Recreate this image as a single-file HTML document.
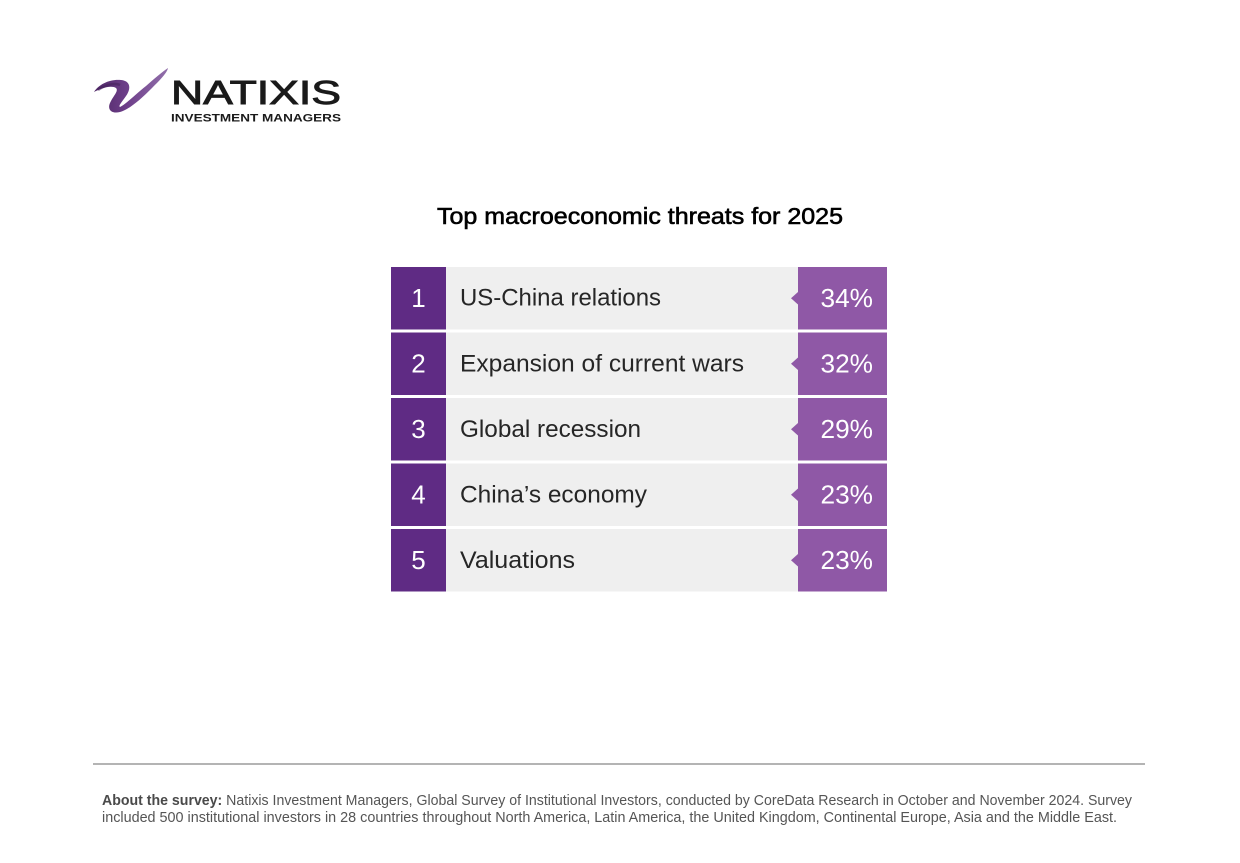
<!DOCTYPE html>
<html>
<head>
<meta charset="utf-8">
<style>
  html, body { margin: 0; padding: 0; background: #ffffff; }
  svg { display: block; }
  .lbl { font-family: "Liberation Sans", sans-serif; font-size: 24px; fill: #262626; }
  .num { font-family: "Liberation Sans", sans-serif; font-size: 26px; fill: #ffffff; }
  .pct { font-family: "Liberation Sans", sans-serif; font-size: 26px; fill: #ffffff; }
  .foot { font-family: "Liberation Sans", sans-serif; font-size: 15px; fill: #555555; }
</style>
</head>
<body>
<svg width="1240" height="863" viewBox="0 0 1240 863" xmlns="http://www.w3.org/2000/svg">
  <defs>
    <linearGradient id="sw" x1="0" y1="0" x2="1" y2="0">
      <stop offset="0" stop-color="#4f2766"/>
      <stop offset="0.45" stop-color="#6e3f8a"/>
      <stop offset="1" stop-color="#9270ab"/>
    </linearGradient>
  </defs>
  <rect width="1240" height="863" fill="#ffffff"/>

  <!-- Logo swoosh -->
  <path d="M94,92 C99,84 110,79 121,80 C131,81 131,89 126,96 C122,102 118,106 120,107 C126,104 136,94 146,86 C154,79 162,72 168,68 C167,73 160,80 152,88 C141,99 130,109 120,112 C112,114 107,110 110,103 C113,96 119,91 116,88 C111,85 102,88 94,92 Z" fill="url(#sw)"/>
  <path d="M98,90 C106,84 116,83 120,85" fill="none" stroke="#3f1e55" stroke-width="2.5" opacity="0.5"/>

  <!-- Logo text -->
  <text x="171" y="104" font-family="Liberation Sans, sans-serif" font-size="33" fill="#1a1a1a" stroke="#1a1a1a" stroke-width="0.9" textLength="170" lengthAdjust="spacingAndGlyphs">NATIXIS</text>
  <text x="171" y="121.5" font-family="Liberation Sans, sans-serif" font-size="11" font-weight="bold" fill="#1a1a1a" textLength="170" lengthAdjust="spacingAndGlyphs">INVESTMENT MANAGERS</text>

  <!-- Title -->
  <text x="437" y="224" font-family="Liberation Sans, sans-serif" font-size="23" fill="#000000" stroke="#000000" stroke-width="0.6" textLength="406" lengthAdjust="spacingAndGlyphs">Top macroeconomic threats for 2025</text>

  <!-- Rows -->
  <g>
    <rect x="391" y="267" width="55" height="62.5" fill="#5f2b84"/>
    <rect x="446" y="267" width="352" height="62.5" fill="#efefef"/>
    <rect x="798" y="267" width="89" height="62.5" fill="#8f58a6"/>
    <polygon points="798,292 791,298.2 798,304.5" fill="#8f58a6"/>
    <text class="num" x="418.5" y="307" text-anchor="middle">1</text>
    <text class="lbl" x="460" y="305.5" textLength="201" lengthAdjust="spacingAndGlyphs">US-China relations</text>
    <text class="pct" x="820.5" y="307" textLength="52.5" lengthAdjust="spacingAndGlyphs">34%</text>

    <rect x="391" y="332.5" width="55" height="62.5" fill="#5f2b84"/>
    <rect x="446" y="332.5" width="352" height="62.5" fill="#efefef"/>
    <rect x="798" y="332.5" width="89" height="62.5" fill="#8f58a6"/>
    <polygon points="798,357.5 791,363.7 798,370" fill="#8f58a6"/>
    <text class="num" x="418.5" y="372.5" text-anchor="middle">2</text>
    <text class="lbl" x="460" y="371.5" textLength="284" lengthAdjust="spacingAndGlyphs">Expansion of current wars</text>
    <text class="pct" x="820.5" y="372.5" textLength="52.5" lengthAdjust="spacingAndGlyphs">32%</text>

    <rect x="391" y="398" width="55" height="62.5" fill="#5f2b84"/>
    <rect x="446" y="398" width="352" height="62.5" fill="#efefef"/>
    <rect x="798" y="398" width="89" height="62.5" fill="#8f58a6"/>
    <polygon points="798,423 791,429.2 798,435.5" fill="#8f58a6"/>
    <text class="num" x="418.5" y="438" text-anchor="middle">3</text>
    <text class="lbl" x="460" y="437" textLength="181" lengthAdjust="spacingAndGlyphs">Global recession</text>
    <text class="pct" x="820.5" y="438" textLength="52.5" lengthAdjust="spacingAndGlyphs">29%</text>

    <rect x="391" y="463.5" width="55" height="62.5" fill="#5f2b84"/>
    <rect x="446" y="463.5" width="352" height="62.5" fill="#efefef"/>
    <rect x="798" y="463.5" width="89" height="62.5" fill="#8f58a6"/>
    <polygon points="798,488.5 791,494.7 798,501" fill="#8f58a6"/>
    <text class="num" x="418.5" y="503.5" text-anchor="middle">4</text>
    <text class="lbl" x="460" y="502.5" textLength="187" lengthAdjust="spacingAndGlyphs">China’s economy</text>
    <text class="pct" x="820.5" y="503.5" textLength="52.5" lengthAdjust="spacingAndGlyphs">23%</text>

    <rect x="391" y="529" width="55" height="62.5" fill="#5f2b84"/>
    <rect x="446" y="529" width="352" height="62.5" fill="#efefef"/>
    <rect x="798" y="529" width="89" height="62.5" fill="#8f58a6"/>
    <polygon points="798,554 791,560.2 798,566.5" fill="#8f58a6"/>
    <text class="num" x="418.5" y="569" text-anchor="middle">5</text>
    <text class="lbl" x="460" y="568" textLength="115" lengthAdjust="spacingAndGlyphs">Valuations</text>
    <text class="pct" x="820.5" y="569" textLength="52.5" lengthAdjust="spacingAndGlyphs">23%</text>
  </g>

  <!-- Footer rule -->
  <rect x="93" y="763" width="1052" height="2" fill="#b4b4b4"/>

  <!-- Footnote -->
  <text class="foot" x="102" y="805" textLength="1030" lengthAdjust="spacingAndGlyphs"><tspan font-weight="bold" fill="#4a4a4a">About the survey:</tspan> Natixis Investment Managers, Global Survey of Institutional Investors, conducted by CoreData Research in October and November 2024. Survey</text>
  <text class="foot" x="102" y="822" textLength="1015" lengthAdjust="spacingAndGlyphs">included 500 institutional investors in 28 countries throughout North America, Latin America, the United Kingdom, Continental Europe, Asia and the Middle East.</text>
</svg>
</body>
</html>
